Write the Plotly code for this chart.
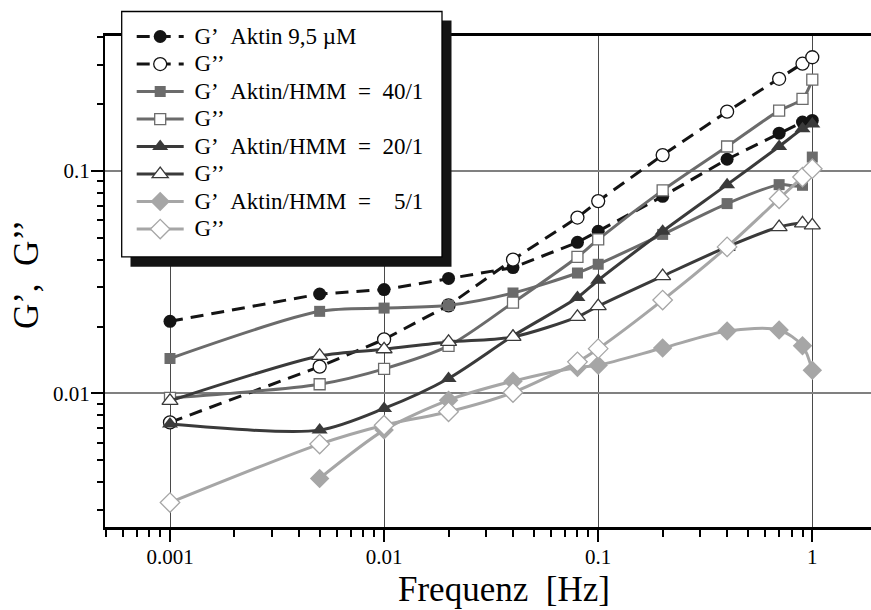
import plotly.graph_objects as go

# Oscillation frequencies (Hz)
freq = [0.001, 0.005, 0.01, 0.02, 0.04, 0.08, 0.1, 0.2, 0.4, 0.7, 0.9, 1.0]
freq_5 = [0.005, 0.01, 0.02, 0.04, 0.08, 0.1, 0.2, 0.4, 0.7, 0.9, 1.0]

# Storage (G') and loss (G'') moduli
g1_aktin = [0.0211, 0.0280, 0.0293, 0.0329, 0.0368, 0.0478, 0.0536, 0.0770, 0.113, 0.148, 0.166, 0.169]
g2_aktin = [0.00741, 0.0132, 0.0175, 0.0249, 0.0400, 0.0618, 0.0733, 0.118, 0.185, 0.260, 0.304, 0.325]
g1_40 = [0.01436, 0.0234, 0.0242, 0.0249, 0.0283, 0.0348, 0.0381, 0.0519, 0.0714, 0.0869, 0.0863, 0.1156]
g2_40 = [0.00955, 0.0110, 0.0129, 0.01636, 0.0256, 0.0411, 0.0493, 0.0819, 0.129, 0.187, 0.211, 0.258]
g1_20 = [0.00728, 0.00684, 0.00856, 0.01168, 0.01815, 0.0270, 0.0323, 0.0536, 0.0869, 0.129, 0.155, 0.163]
g2_20 = [0.00926, 0.01475, 0.0158, 0.01705, 0.01796, 0.0221, 0.0247, 0.0337, 0.0456, 0.0560, 0.0582, 0.0570]
g1_5 = [0.00415, 0.00684, 0.00933, 0.01136, 0.01309, 0.0134, 0.0160, 0.0191, 0.0193, 0.0164, 0.0127]
g2_5 = [0.00323, 0.00592, 0.0072, 0.00827, 0.0101, 0.01387, 0.0159, 0.0263, 0.0456, 0.0751, 0.094, 0.1025]

NB = "\u00a0"
series_names = [
    f"G’{NB}{NB}Aktin 9,5 µM",
    "G’’",
    f"G’{NB}{NB}Aktin/HMM{NB}{NB}={NB}{NB}40/1",
    "G’’",
    f"G’{NB}{NB}Aktin/HMM{NB}{NB}={NB}{NB}20/1",
    "G’’",
    f"G’{NB}{NB}Aktin/HMM{NB}{NB}={NB}{NB}{NB}{NB}5/1",
    "G’’",
]

x_tickvals = [0.001, 0.01, 0.1, 1]
x_ticktext = ["0.001", "0.01", "0.1", "1"]
y_tickvals = [0.01, 0.1]
y_ticktext = ["0.01", "0.1"]

x_title = f"Frequenz{NB}{NB}[Hz]"
y_title = f"G’,{NB}{NB}G’’"

FONT = "Liberation Serif"
BLACK = "#141414"
MID = "#6b6b6b"
DARK = "#3a3a3a"
LIGHT = "#a6a6a6"

W, H = 871, 610
L, R, T, B = 105, 871, 35.5, 527


def px_x(px):
    return (px - L) / (R - L)


def px_y(py):
    return (B - py) / (B - T)


def series(x, y, name, color, symbol, size, filled, dash=None, shape="spline"):
    return go.Scatter(
        x=x, y=y, mode="lines+markers",
        name=f'<span style="font-size:23px">{NB}{name}</span>',
        line=dict(color=color, width=3, dash=dash, shape=shape, smoothing=0.8),
        marker=dict(
            symbol=symbol, size=size,
            color=color if filled else "white",
            line=dict(color=color, width=0 if filled else 1.3),
        ),
    )


DASH = "13px,8px"
fig = go.Figure([
    series(freq, g1_aktin, series_names[0], BLACK, "circle", 13, True, DASH, "linear"),
    series(freq, g2_aktin, series_names[1], BLACK, "circle", 13, False, DASH, "linear"),
    series(freq, g1_40, series_names[2], MID, "square", 11, True),
    series(freq, g2_40, series_names[3], MID, "square", 11, False),
    series(freq, g1_20, series_names[4], DARK, "triangle-up", 14, True),
    series(freq, g2_20, series_names[5], DARK, "triangle-up", 14, False),
    series(freq_5, g1_5, series_names[6], LIGHT, "diamond", 15, True),
    series(freq, g2_5, series_names[7], LIGHT, "diamond", 15, False),
])

axis_common = dict(
    type="log", showline=True, linecolor="black", ticks="outside",
    tickcolor="black", tickwidth=2, ticklen=12, zeroline=False,
    tickfont=dict(family=FONT, size=21, color="black"),
    showgrid=True, tickmode="array", ticklabelstandoff=-3,
)

fig.update_xaxes(
    **axis_common,
    range=[-3.3036, 0.2742], linewidth=3, mirror=True,
    tickvals=x_tickvals, ticktext=x_ticktext,
    gridcolor="#4a4a4a", gridwidth=1,
    minor=dict(dtick="D1", tick0=0, ticks="outside", ticklen=7, tickwidth=2,
               tickcolor="black", showgrid=False),
)
fig.update_yaxes(
    **axis_common,
    range=[-2.6006, -0.3926], linewidth=2,
    tickvals=y_tickvals, ticktext=y_ticktext,
    gridcolor="#808080", gridwidth=1.5,
    minor=dict(dtick="D1", tick0=0, ticks="outside", ticklen=6, tickwidth=2,
               tickcolor="black", showgrid=False),
)

# legend frame with drop shadow
shapes = [
    dict(type="rect", xref="paper", yref="paper", layer="above",
         x0=px_x(130.5), x1=px_x(451.5), y0=px_y(266.5), y1=px_y(20),
         fillcolor="#141414", line=dict(width=0)),
    dict(type="rect", xref="paper", yref="paper", layer="above",
         x0=px_x(121.7), x1=px_x(442), y0=px_y(256.7), y1=px_y(11),
         fillcolor="white", line=dict(color="black", width=1.3)),
]

annotations = [
    dict(text=x_title, xref="paper", yref="paper", x=px_x(504), y=px_y(589.7),
         xanchor="center", yanchor="middle", showarrow=False,
         font=dict(family=FONT, size=35, color="black")),
    dict(text=y_title, xref="paper", yref="paper", x=px_x(25.8), y=px_y(274),
         xanchor="center", yanchor="middle", showarrow=False, textangle=-90,
         font=dict(family=FONT, size=35, color="black")),
]

fig.update_layout(
    width=W, height=H,
    margin=dict(l=L, r=W - R, t=T, b=H - B, autoexpand=False),
    paper_bgcolor="white", plot_bgcolor="white",
    font=dict(family=FONT, color="black"),
    shapes=shapes, annotations=annotations,
    showlegend=True,
    legend=dict(
        x=px_x(131.7), y=px_y(17.25), xanchor="left", yanchor="top",
        bgcolor="rgba(0,0,0,0)", borderwidth=0,
        font=dict(family=FONT, size=18.85, color="black"),
        itemwidth=47, traceorder="normal",
    ),
)

fig.write_html("out.html")
